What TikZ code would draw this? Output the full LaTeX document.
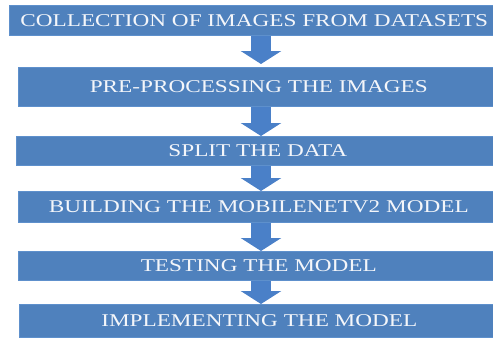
\documentclass[tikz,border=0pt]{standalone}
\usepackage{fontspec}
\setmainfont{Liberation Serif}[FakeStretch=1.29]
\usetikzlibrary{arrows.meta}
\definecolor{boxblue}{HTML}{4F81BD}
\definecolor{boxedge}{HTML}{5E90CC}
\definecolor{arrowblue}{HTML}{4A80C8}
\definecolor{txt}{HTML}{F4F6FA}
\tikzset{
  stepbox/.style={rectangle, fill=boxblue, draw=boxedge, line width=0.6pt,
    anchor=north west, inner sep=0pt, text=txt,
    font=\fontsize{18}{20}\selectfont},
  flowarrow/.style={draw=arrowblue, line width=20pt,
    -{Triangle[width=40pt,length=13pt]}},
}
\begin{document}
\begin{tikzpicture}[x=1pt,y=-1pt]
\useasboundingbox (0,0) rectangle (493,340);
\fill[white] (0,0) rectangle (493,340);
\node[stepbox, minimum width=490pt, minimum height=30pt] (b1) at (9,5) {COLLECTION OF IMAGES FROM DATASETS};
\node[stepbox, minimum width=481pt, minimum height=39pt] (b2) at (18,67) {PRE-PROCESSING THE IMAGES};
\node[stepbox, minimum width=483pt, minimum height=29pt] (b3) at (16,136) {SPLIT THE DATA};
\node[stepbox, minimum width=481pt, minimum height=31pt] (b4) at (18,191) {BUILDING THE MOBILENETV2 MODEL};
\node[stepbox, minimum width=481pt, minimum height=29pt] (b5) at (18,251) {TESTING THE MODEL};
\node[stepbox, minimum width=480pt, minimum height=33pt] (b6) at (19,304) {IMPLEMENTING THE MODEL};
\coordinate (ax) at (261,0);
\draw[flowarrow] (b1.south -| ax) -- ([yshift=3pt]b2.north -| ax);
\draw[flowarrow] (b2.south -| ax) -- (b3.north -| ax);
\draw[flowarrow] (b3.south -| ax) -- (b4.north -| ax);
\draw[flowarrow] (b4.south -| ax) -- (b5.north -| ax);
\draw[flowarrow] (b5.south -| ax) -- (b6.north -| ax);
\end{tikzpicture}
\end{document}
